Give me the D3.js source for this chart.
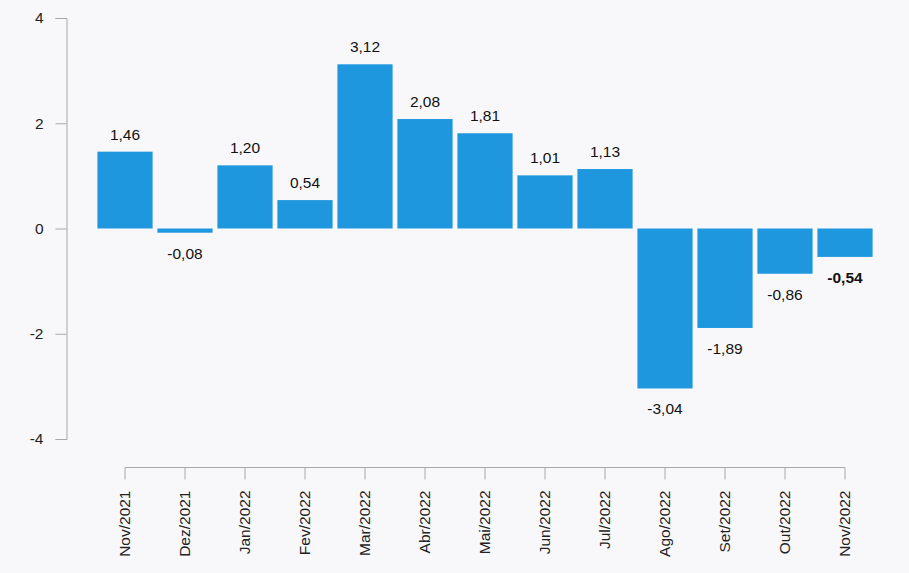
<!DOCTYPE html>
<html><head><meta charset="utf-8">
<script src="https://cdn.jsdelivr.net/npm/d3@7"></script>
<style>
html,body{margin:0;padding:0;background:#f8f8fb;}
svg{display:block;font-family:"Liberation Sans",Arial,sans-serif;}
</style></head><body>
<svg id="c" width="909" height="573"></svg>
<script>
const categories = ["Nov/2021","Dez/2021","Jan/2022","Fev/2022","Mar/2022","Abr/2022","Mai/2022","Jun/2022","Jul/2022","Ago/2022","Set/2022","Out/2022","Nov/2022"];
const values = [1.46,-0.08,1.20,0.54,3.12,2.08,1.81,1.01,1.13,-3.04,-1.89,-0.86,-0.54];
const yTicks = [-4,-2,0,2,4];

const svg = d3.select("#c");
const x = d3.scaleBand().domain(categories).range([95,875]).paddingInner(0.08).paddingOuter(0.04);
const y = d3.scaleLinear().domain([-4,4]).range([439,18]);
const fmt = v => v.toFixed(2).replace(".",",");

// y axis
const ya = svg.append("g").attr("transform","translate(66.5,0)")
  .call(d3.axisLeft(y).tickValues(yTicks).tickSize(11).tickPadding(12).tickFormat(d=>d));
ya.select(".domain").attr("stroke","#a8a8a8");
ya.selectAll(".tick line").attr("stroke","#a8a8a8");
ya.selectAll("text").attr("font-size",15.5).attr("fill","#222").attr("font-family","Liberation Sans, Arial, sans-serif");

// x axis
const xa = svg.append("g").attr("transform","translate(0,467.5)")
  .call(d3.axisBottom(x).tickSize(12).tickSizeOuter(0));
xa.select(".domain").attr("d",`M${x(categories[0])+x.bandwidth()/2},0H${x(categories[categories.length-1])+x.bandwidth()/2}`).attr("stroke","#a8a8a8");
xa.selectAll(".tick line").attr("stroke","#a8a8a8");
xa.selectAll("text").attr("font-size",15.5).attr("fill","#222").attr("font-family","Liberation Sans, Arial, sans-serif")
  .attr("transform","rotate(-90)").attr("text-anchor","end").attr("x",-23).attr("y",0).attr("dy","0.35em");

// bars
svg.append("g").selectAll("rect").data(values).join("rect")
  .attr("x",(d,i)=>x(categories[i]))
  .attr("width",x.bandwidth())
  .attr("y",d=>y(Math.max(0,d)))
  .attr("height",d=>Math.abs(y(d)-y(0)))
  .attr("fill","#1f97df");

// labels
svg.append("g").selectAll("text").data(values).join("text")
  .attr("x",(d,i)=>x(categories[i])+x.bandwidth()/2)
  .attr("y",d=> d>=0 ? y(d)-12 : y(d)+26)
  .attr("text-anchor","middle")
  .attr("font-size",15.5)
  .attr("fill","#111")
  .attr("font-weight",(d,i)=> i===values.length-1 ? "bold":"normal")
  .text(d=>fmt(d));
</script>
</body></html>
